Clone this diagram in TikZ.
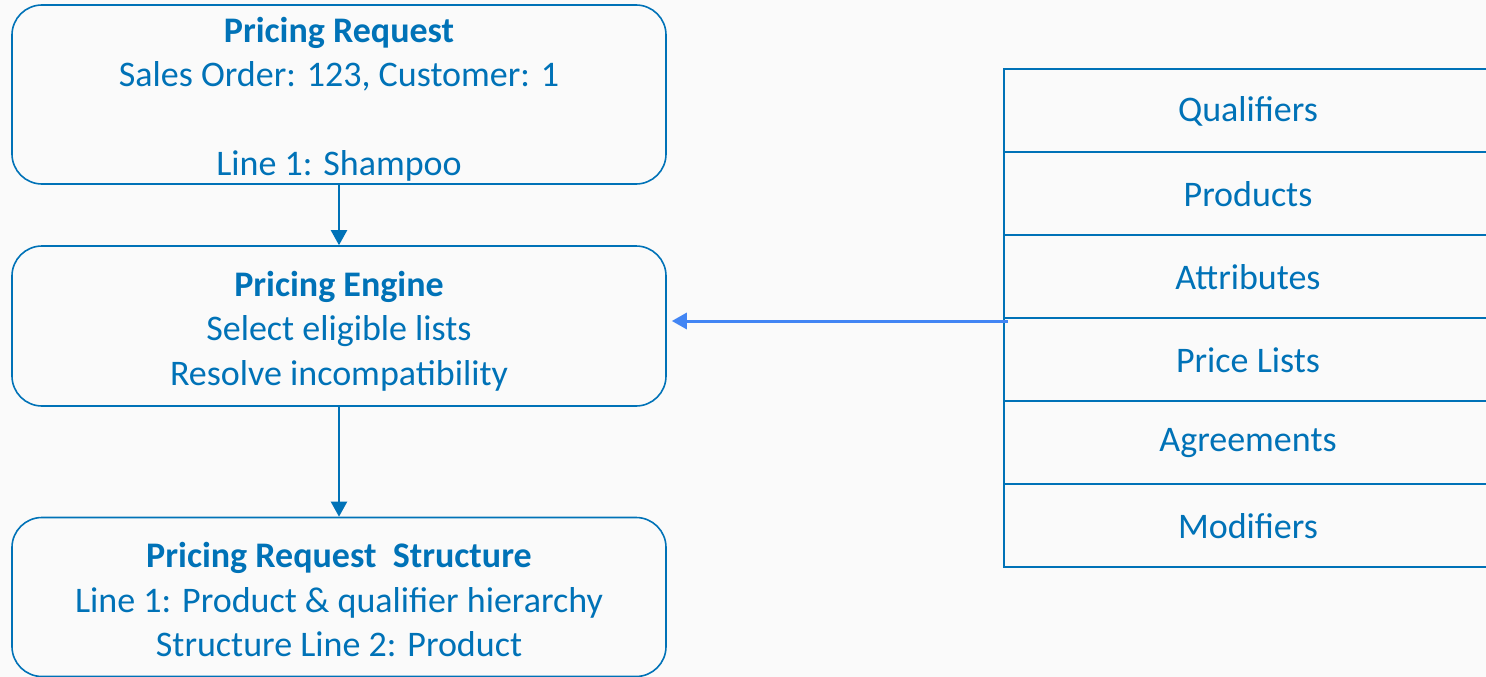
\documentclass[tikz,border=0pt]{standalone}
\usepackage{fontspec}
\setmainfont{Carlito}
\usetikzlibrary{arrows.meta}

\definecolor{boxblue}{RGB}{0,114,183}
\definecolor{linkblue}{RGB}{66,133,244}
\definecolor{paper}{RGB}{250,250,250}

\begin{document}
\begin{tikzpicture}[x=1pt, y=-1pt,
	stage/.style={draw=boxblue, line width=1.6pt, rounded corners=30pt, text=boxblue,
		minimum width=654pt, inner sep=0pt, align=center,
		font=\fontsize{36}{44.5}\selectfont},
	cell/.style={draw=boxblue, line width=1.6pt, minimum width=490pt,
		minimum height=83pt, inner sep=0pt, anchor=north west},
	tag/.style={text=boxblue, font=\fontsize{36}{40}\selectfont},
	flow/.style={draw=boxblue, line width=2.2pt, -{Triangle[width=16pt,length=15pt]}}]

	\clip (0,0) rectangle (1486,677);
	\fill[paper] (0,0) rectangle (1486,677);

	% left column
	\node[stage, minimum height=179pt] (request) at (339,94.5)
		{\rule{0pt}{35pt}\textbf{Pricing Request}\\Sales Order: 123, Customer: 1\\ \mbox{}\\Line 1: Shampoo};
	\node[stage, minimum height=160pt] (engine) at (339,326)
		{\rule{0pt}{35pt}\textbf{Pricing Engine}\\Select eligible lists\\Resolve incompatibility};
	\node[stage, minimum height=159pt] (structure) at (339,597)
		{\rule{0pt}{31pt}\textbf{Pricing Request\ \ Structure}\\Line 1: Product \& qualifier hierarchy\\Structure Line 2: Product};

	\draw[flow] (request) -- (engine);
	\draw[flow] (engine) -- (structure);

	% right table
	\node[cell] (qualifiers) at (1003,68) {};
	\node[cell] (products) at (1003,151) {};
	\node[cell] (attributes) at (1003,234) {};
	\node[cell] (pricelists) at (1003,317) {};
	\node[cell] (agreements) at (1003,400) {};
	\node[cell] (modifiers) at (1003,483) {};

	\node[tag] at (1248,111) {Qualifiers};
	\node[tag] at (1248,194) {Products};
	\node[tag] at (1248,277) {Attributes};
	\node[tag] at (1248,360) {Price Lists};
	\node[tag] at (1248,443) {Agreements};
	\node[tag] at (1248,526) {Modifiers};

	\coordinate (feed) at (1008,321);
	\draw[linkblue, line width=3pt, -{Triangle[width=16pt,length=15pt]}]
		(feed) -- ([xshift=5pt]engine.east |- feed);

\end{tikzpicture}
\end{document}
